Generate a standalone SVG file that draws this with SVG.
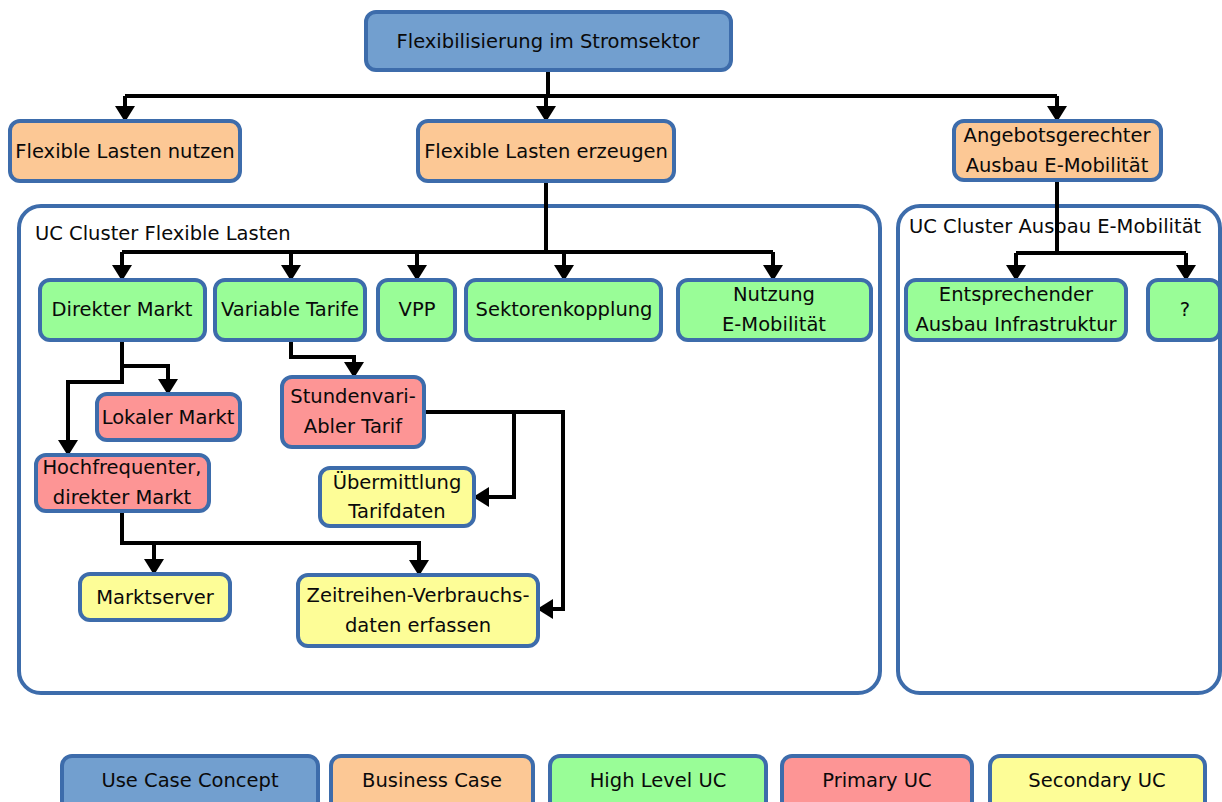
<svg xmlns="http://www.w3.org/2000/svg" width="1222" height="802" viewBox="0 0 1222 802">
  <style>
    .box { stroke: #3d6cab; stroke-width: 4; }
    .concept { fill: #729fcf; }
    .business { fill: #fcc895; }
    .high { fill: #99fd97; }
    .primary { fill: #fd9595; }
    .secondary { fill: #fdfd97; }
    .cluster { fill: #ffffff; stroke: #3d6cab; stroke-width: 4; }
    text { font-family: "DejaVu Sans", "Noto Sans", sans-serif; font-size: 19.5px; fill: #0a0a0a; text-anchor: middle; }
    .title { text-anchor: start; }
    .legend text { font-size: 19.5px; }
    .edge { fill: none; stroke: #000000; stroke-width: 4; stroke-linejoin: miter; }
  </style>
  <defs>
    <marker id="arrow" viewBox="0 0 16 20" refX="15" refY="10" markerWidth="16" markerHeight="20" markerUnits="userSpaceOnUse" orient="auto">
      <path d="M0,0 L16,10 L0,20 Z" fill="#000000"/>
    </marker>
  </defs>

  <!-- cluster frames -->
  <g id="cluster-flex">
    <rect class="cluster" x="19" y="206" width="861" height="487" rx="22"/>
    <text class="title" x="35" y="240">UC Cluster Flexible Lasten</text>
  </g>
  <g id="cluster-emob">
    <rect class="cluster" x="898" y="206" width="322" height="487" rx="22"/>
    <text class="title" x="909" y="233">UC Cluster Ausbau E-Mobilität</text>
  </g>

  <!-- connectors -->
  <g id="connectors">
    <path class="edge" d="M548,70 V96"/>
    <path class="edge" d="M125,96 H1057"/>
    <path class="edge" d="M125,96 V121" marker-end="url(#arrow)"/>
    <path class="edge" d="M546,96 V121" marker-end="url(#arrow)"/>
    <path class="edge" d="M1057,96 V121" marker-end="url(#arrow)"/>

    <path class="edge" d="M546,181 V252"/>
    <path class="edge" d="M122,252 H773"/>
    <path class="edge" d="M122,252 V280" marker-end="url(#arrow)"/>
    <path class="edge" d="M291,252 V280" marker-end="url(#arrow)"/>
    <path class="edge" d="M417,252 V280" marker-end="url(#arrow)"/>
    <path class="edge" d="M564,252 V280" marker-end="url(#arrow)"/>
    <path class="edge" d="M773,252 V280" marker-end="url(#arrow)"/>

    <path class="edge" d="M1057,180 V253"/>
    <path class="edge" d="M1016,253 H1186"/>
    <path class="edge" d="M1016,253 V280" marker-end="url(#arrow)"/>
    <path class="edge" d="M1186,253 V280" marker-end="url(#arrow)"/>

    <path class="edge" d="M122,340 V366 H168 V394" marker-end="url(#arrow)"/>
    <path class="edge" d="M122,366 V382 H68 V455" marker-end="url(#arrow)"/>

    <path class="edge" d="M291,340 V357 H354 V377" marker-end="url(#arrow)"/>

    <path class="edge" d="M424,412 H563 V609 H538" marker-end="url(#arrow)"/>
    <path class="edge" d="M514,412 V497 H474" marker-end="url(#arrow)"/>

    <path class="edge" d="M122,511 V543 H419 V575" marker-end="url(#arrow)"/>
    <path class="edge" d="M154,543 V574" marker-end="url(#arrow)"/>
  </g>

  <!-- use case concept -->
  <g id="n-stromsektor">
    <rect class="box concept" x="366" y="12" width="365" height="58" rx="10"/>
    <text x="548" y="48">Flexibilisierung im Stromsektor</text>
  </g>

  <!-- business cases -->
  <g id="n-nutzen">
    <rect class="box business" x="10" y="121" width="230" height="60" rx="10"/>
    <text x="125" y="158">Flexible Lasten nutzen</text>
  </g>
  <g id="n-erzeugen">
    <rect class="box business" x="418" y="121" width="256" height="60" rx="10"/>
    <text x="546" y="158">Flexible Lasten erzeugen</text>
  </g>
  <g id="n-angebot">
    <rect class="box business" x="954" y="121" width="207" height="59" rx="10"/>
    <text x="1057" y="142">Angebotsgerechter</text>
    <text x="1057" y="172">Ausbau E-Mobilität</text>
  </g>

  <!-- high level use cases -->
  <g id="n-direkt">
    <rect class="box high" x="40" y="280" width="165" height="60" rx="10"/>
    <text x="122" y="316">Direkter Markt</text>
  </g>
  <g id="n-tarife">
    <rect class="box high" x="215" y="280" width="150" height="60" rx="10"/>
    <text x="290" y="316">Variable Tarife</text>
  </g>
  <g id="n-vpp">
    <rect class="box high" x="378" y="280" width="77" height="60" rx="10"/>
    <text x="417" y="316">VPP</text>
  </g>
  <g id="n-sektor">
    <rect class="box high" x="466" y="280" width="195" height="60" rx="10"/>
    <text x="564" y="316">Sektorenkopplung</text>
  </g>
  <g id="n-nutzung-emob">
    <rect class="box high" x="678" y="280" width="193" height="60" rx="10"/>
    <text x="774" y="301">Nutzung</text>
    <text x="774" y="331">E-Mobilität</text>
  </g>
  <g id="n-infra">
    <rect class="box high" x="906" y="280" width="220" height="60" rx="10"/>
    <text x="1016" y="301">Entsprechender</text>
    <text x="1016" y="331">Ausbau Infrastruktur</text>
  </g>
  <g id="n-offen">
    <rect class="box high" x="1148" y="280" width="72" height="60" rx="10"/>
    <text x="1185" y="316">?</text>
  </g>

  <!-- primary use cases -->
  <g id="n-lokal">
    <rect class="box primary" x="97" y="394" width="143" height="46" rx="10"/>
    <text x="168" y="424">Lokaler Markt</text>
  </g>
  <g id="n-hochfrequent">
    <rect class="box primary" x="36" y="455" width="173" height="56" rx="10"/>
    <text x="122" y="474">Hochfrequenter,</text>
    <text x="122" y="504">direkter Markt</text>
  </g>
  <g id="n-stundenvariabel">
    <rect class="box primary" x="282" y="377" width="142" height="70" rx="10"/>
    <text x="353" y="403">Stundenvari-</text>
    <text x="353" y="433">Abler Tarif</text>
  </g>

  <!-- secondary use cases -->
  <g id="n-tarifdaten">
    <rect class="box secondary" x="320" y="468" width="154" height="58" rx="10"/>
    <text x="397" y="489">Übermittlung</text>
    <text x="397" y="518">Tarifdaten</text>
  </g>
  <g id="n-marktserver">
    <rect class="box secondary" x="80" y="574" width="150" height="46" rx="10"/>
    <text x="155" y="604">Marktserver</text>
  </g>
  <g id="n-zeitreihen">
    <rect class="box secondary" x="298" y="575" width="240" height="71" rx="10"/>
    <text x="418" y="602">Zeitreihen-Verbrauchs-</text>
    <text x="418" y="632">daten erfassen</text>
  </g>

  <!-- legend -->
  <g id="legend" class="legend">
    <rect class="box concept" x="62" y="756" width="256" height="56" rx="10"/>
    <text x="190" y="787">Use Case Concept</text>
    <rect class="box business" x="331" y="756" width="202" height="56" rx="10"/>
    <text x="432" y="787">Business Case</text>
    <rect class="box high" x="550" y="756" width="216" height="56" rx="10"/>
    <text x="658" y="787">High Level UC</text>
    <rect class="box primary" x="782" y="756" width="190" height="56" rx="10"/>
    <text x="877" y="787">Primary UC</text>
    <rect class="box secondary" x="990" y="756" width="215" height="56" rx="10"/>
    <text x="1097" y="787">Secondary UC</text>
  </g>
</svg>
